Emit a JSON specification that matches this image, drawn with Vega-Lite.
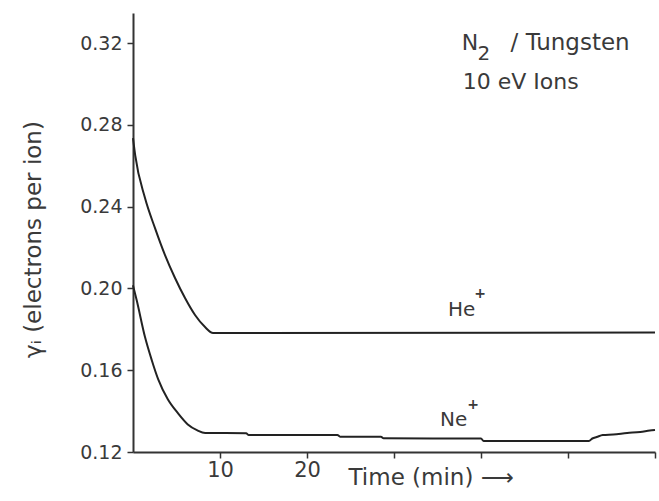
{
  "$schema": "https://vega.github.io/schema/vega-lite/v6.json",
  "width": 522,
  "height": 439,
  "autosize": "none",
  "padding": {"left": 133, "top": 13, "right": 4, "bottom": 49},
  "background": "white",
  "config": {
    "view": {"stroke": null},
    "font": "DejaVu Sans",
    "axis": {
      "grid": false,
      "domainColor": "#333333",
      "domainWidth": 2,
      "tickColor": "#333333",
      "tickWidth": 1.5,
      "tickSize": 6,
      "labelColor": "#3a3a3a",
      "titleColor": "#3a3a3a",
      "labelFont": "DejaVu Sans",
      "titleFont": "DejaVu Sans",
      "titleFontWeight": "normal"
    }
  },
  "datasets": {
    "curves": [
      {"series": "He+", "t": 0, "gamma": 0.2735},
      {"series": "He+", "t": 0.25, "gamma": 0.2652},
      {"series": "He+", "t": 1.38, "gamma": 0.2442},
      {"series": "He+", "t": 2.53, "gamma": 0.2295},
      {"series": "He+", "t": 3.68, "gamma": 0.2163},
      {"series": "He+", "t": 4.83, "gamma": 0.2051},
      {"series": "He+", "t": 5.98, "gamma": 0.1953},
      {"series": "He+", "t": 7.13, "gamma": 0.187},
      {"series": "He+", "t": 8.28, "gamma": 0.1811},
      {"series": "He+", "t": 9.2, "gamma": 0.1782},
      {"series": "He+", "t": 60, "gamma": 0.1784},
      {"series": "Ne+", "t": 0, "gamma": 0.2015},
      {"series": "Ne+", "t": 0.42, "gamma": 0.1943},
      {"series": "Ne+", "t": 1.38, "gamma": 0.1762},
      {"series": "Ne+", "t": 2.15, "gamma": 0.165},
      {"series": "Ne+", "t": 2.9, "gamma": 0.1555},
      {"series": "Ne+", "t": 4.0, "gamma": 0.1458},
      {"series": "Ne+", "t": 5.2, "gamma": 0.1388},
      {"series": "Ne+", "t": 6.3, "gamma": 0.1335},
      {"series": "Ne+", "t": 7.4, "gamma": 0.1306},
      {"series": "Ne+", "t": 8.3, "gamma": 0.1293},
      {"series": "Ne+", "t": 13.0, "gamma": 0.1292},
      {"series": "Ne+", "t": 13.3, "gamma": 0.1283},
      {"series": "Ne+", "t": 23.5, "gamma": 0.1283},
      {"series": "Ne+", "t": 23.8, "gamma": 0.1275},
      {"series": "Ne+", "t": 28.5, "gamma": 0.1275},
      {"series": "Ne+", "t": 28.8, "gamma": 0.1267},
      {"series": "Ne+", "t": 40.0, "gamma": 0.1266},
      {"series": "Ne+", "t": 40.3, "gamma": 0.1254},
      {"series": "Ne+", "t": 52.4, "gamma": 0.1254},
      {"series": "Ne+", "t": 52.8, "gamma": 0.1266},
      {"series": "Ne+", "t": 53.3, "gamma": 0.1273},
      {"series": "Ne+", "t": 54.0, "gamma": 0.1283},
      {"series": "Ne+", "t": 55.2, "gamma": 0.1286},
      {"series": "Ne+", "t": 56.8, "gamma": 0.1293},
      {"series": "Ne+", "t": 58.3, "gamma": 0.1298},
      {"series": "Ne+", "t": 59.4, "gamma": 0.1305},
      {"series": "Ne+", "t": 60, "gamma": 0.1308}
    ],
    "one": [{}]
  },
  "layer": [
    {
      "data": {"name": "curves"},
      "mark": {"type": "line", "strokeWidth": 2, "interpolate": "monotone"},
      "encoding": {
        "x": {
          "field": "t",
          "type": "quantitative",
          "scale": {"domain": [0, 60], "nice": false, "zero": false},
          "axis": {
            "values": [10, 20, 30, 40, 50, 60],
            "labelExpr": "datum.value <= 20 ? datum.label : ''",
            "labelFontSize": 21,
            "labelBaseline": "middle",
            "labelPadding": 12,
            "labelDx": 8,
            "title": "Time (min) ⟶",
            "titleFontSize": 23,
            "titleAlign": "left",
            "titleBaseline": "middle",
            "titleX": 215,
            "titleY": 25
          }
        },
        "y": {
          "field": "gamma",
          "type": "quantitative",
          "scale": {"domain": [0.12, 0.3347], "nice": false, "zero": false},
          "axis": {
            "values": [0.12, 0.16, 0.2, 0.24, 0.28, 0.32],
            "format": ".2f",
            "labelFontSize": 19,
            "labelPadding": 5,
            "title": "γᵢ  (electrons per ion)",
            "titleFontSize": 23,
            "titleAngle": -90,
            "titleAlign": "center",
            "titleBaseline": "middle",
            "titleX": -100,
            "titleY": 226
          }
        },
        "color": {
          "field": "series",
          "type": "nominal",
          "scale": {"range": ["#222222", "#222222"]},
          "legend": null
        }
      }
    },
    {
      "data": {"name": "one"},
      "mark": {"type": "text", "text": "N", "fontSize": 22, "align": "left", "baseline": "alphabetic", "color": "#3a3a3a"},
      "encoding": {"x": {"datum": 37.8}, "y": {"datum": 0.3166}}
    },
    {
      "data": {"name": "one"},
      "mark": {"type": "text", "text": "2", "fontSize": 20, "align": "left", "baseline": "alphabetic", "color": "#3a3a3a"},
      "encoding": {"x": {"datum": 39.6}, "y": {"datum": 0.3115}}
    },
    {
      "data": {"name": "one"},
      "mark": {"type": "text", "text": "/ Tungsten", "fontSize": 23, "align": "left", "baseline": "alphabetic", "color": "#3a3a3a"},
      "encoding": {"x": {"datum": 43.4}, "y": {"datum": 0.3166}}
    },
    {
      "data": {"name": "one"},
      "mark": {"type": "text", "text": "10 eV Ions", "fontSize": 22, "align": "left", "baseline": "alphabetic", "color": "#3a3a3a"},
      "encoding": {"x": {"datum": 37.9}, "y": {"datum": 0.2975}}
    },
    {
      "data": {"name": "one"},
      "mark": {"type": "text", "text": "He", "fontSize": 20, "align": "left", "baseline": "alphabetic", "color": "#3a3a3a"},
      "encoding": {"x": {"datum": 36.2}, "y": {"datum": 0.1865}}
    },
    {
      "data": {"name": "one"},
      "mark": {"type": "text", "text": "+", "fontSize": 14, "fontWeight": "bold", "align": "center", "baseline": "middle", "color": "#3a3a3a"},
      "encoding": {"x": {"datum": 39.9}, "y": {"datum": 0.1975}}
    },
    {
      "data": {"name": "one"},
      "mark": {"type": "text", "text": "Ne", "fontSize": 20, "align": "left", "baseline": "alphabetic", "color": "#3a3a3a"},
      "encoding": {"x": {"datum": 35.3}, "y": {"datum": 0.1327}}
    },
    {
      "data": {"name": "one"},
      "mark": {"type": "text", "text": "+", "fontSize": 14, "fontWeight": "bold", "align": "center", "baseline": "middle", "color": "#3a3a3a"},
      "encoding": {"x": {"datum": 39.1}, "y": {"datum": 0.1428}}
    }
  ]
}
